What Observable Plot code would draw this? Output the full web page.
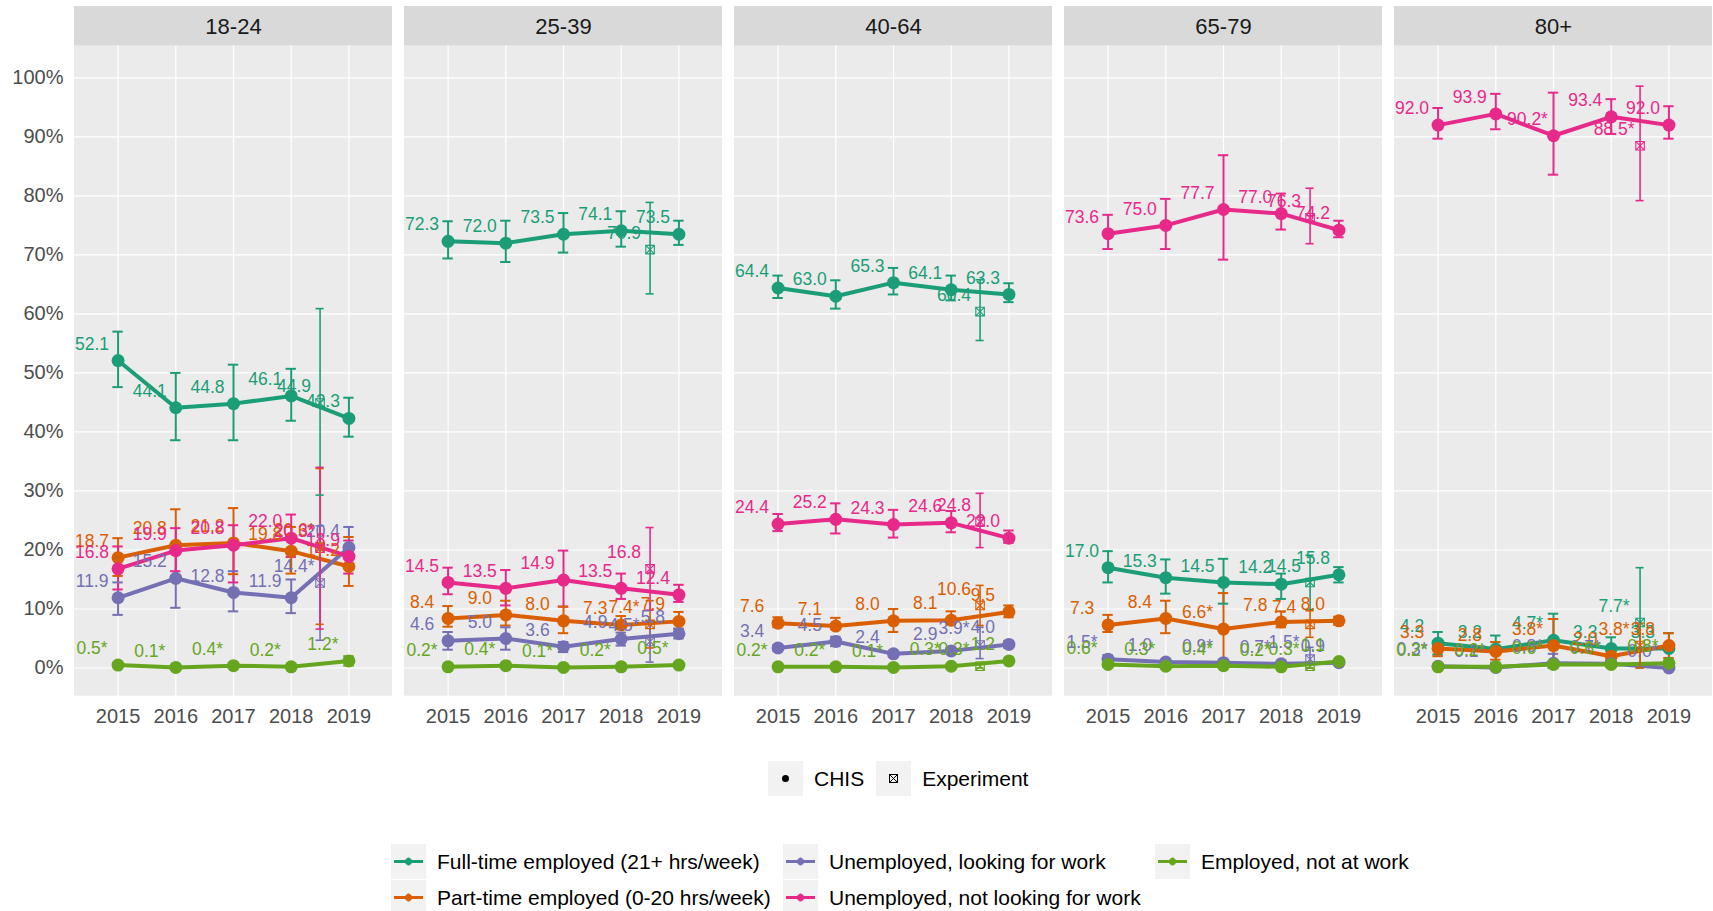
<!DOCTYPE html>
<html><head><meta charset="utf-8">
<script src="https://cdn.jsdelivr.net/npm/d3@7"></script>
<script src="https://cdn.jsdelivr.net/npm/@observablehq/plot@0.6"></script>
<style>
body{margin:0;background:#fff;font-family:"Liberation Sans",Arial,Helvetica,sans-serif;}
#wrap{position:relative;width:1713px;height:911px;overflow:hidden;background:#fff;}
#chart{position:absolute;left:0;top:0;}
.key{width:35px;height:35px;background:#F2F2F2;flex:none;}
.key svg{display:block;}
.lab{font-size:21px;color:#000;white-space:nowrap;line-height:1;}
.item{display:flex;align-items:center;height:35px;}
#leg1{position:absolute;left:768px;top:761px;display:flex;align-items:center;}
#leg2{position:absolute;left:391px;top:844px;display:grid;grid-template-columns:392px 372px auto;grid-template-rows:36px 36px;grid-auto-flow:column;}
</style></head><body>
<div id="wrap"><div id="chart"></div><div id="leg1"></div><div id="leg2"></div></div>
<script>
const years = [2015, 2016, 2017, 2018, 2019];
const expYear = 2018.5;
const ages = ["18-24", "25-39", "40-64", "65-79", "80+"];
const categories = ["Full-time employed (21+ hrs/week)", "Part-time employed (0-20 hrs/week)", "Unemployed, looking for work", "Unemployed, not looking for work", "Employed, not at work"];
const colors = ["#1B9E77", "#D95F02", "#7570B3", "#E7298A", "#66A61E"];
const yTicks = [0, 10, 20, 30, 40, 50, 60, 70, 80, 90, 100];
const shapeLegend = ["CHIS", "Experiment"];

// CHIS estimates (rows = age groups, columns = years), printed labels
const ftLabel = [["52.1","44.1","44.8","46.1","42.3"],["72.3","72.0","73.5","74.1","73.5"],["64.4","63.0","65.3","64.1","63.3"],["17.0","15.3","14.5","14.2","15.8"],["4.2","3.2","4.7*","3.3","3.3"]];
const ftLow = [[47.6,38.6,38.6,41.9,39.2],[69.4,68.8,70.4,71.4,71.7],[62.7,60.9,63.3,62.3,62.0],[14.5,12.6,10.9,11.7,14.5],[2.3,0.9,0.3,1.4,1.0]];
const ftHigh = [[57.0,50.0,51.4,50.7,45.8],[75.7,75.8,77.1,77.4,75.8],[66.5,65.7,67.8,66.5,65.2],[19.8,18.4,18.5,16.0,17.1],[6.1,5.5,9.2,5.2,5.9]];

const ptLabel = [["18.7","20.8","21.2","19.8","17.2"],["8.4","9.0","8.0","7.3","7.9"],["7.6","7.1","8.0","8.1","9.5"],["7.3","8.4","6.6*","7.8","8.0"],["3.3","2.8","3.8*","2.0","3.8"]];
const ptLow = [[15.6,14.7,15.9,16.0,13.9],[7.0,7.2,5.9,6.6,6.6],[6.9,6.6,6.1,7.4,8.6],[6.1,5.9,0.7,6.9,7.3],[2.0,1.4,0.0,1.2,1.7]];
const ptHigh = [[22.0,26.9,27.1,23.9,22.2],[10.5,11.4,10.4,8.8,9.5],[8.6,8.5,10.0,9.6,10.6],[9.0,11.4,12.7,9.6,8.7],[4.6,4.4,8.3,2.8,5.9]];

const ulLabel = [["11.9","15.2","12.8","11.9","20.4"],["4.6","5.0","3.6","4.9","5.8"],["3.4","4.5","2.4","2.9","4.0"],["1.5*","1.0","0.9*","0.7*","0.9"],["0.3*","0.1*","0.8*","0.7*","0.0*"]];
const ulLow = [[9.0,10.2,9.6,9.3,17.0],[3.1,3.1,2.7,3.8,5.0],[2.9,3.7,1.9,2.4,3.4],[0.8,0.6,0.4,0.4,0.6],[0.0,0.0,0.0,0.2,0.0]];
const ulHigh = [[14.5,20.6,16.4,15.0,23.9],[6.1,6.9,4.4,6.0,6.7],[3.9,5.3,2.9,3.4,4.6],[2.2,1.4,1.4,1.0,1.2],[0.6,0.3,2.4,1.2,0.1]];

const unLabel = [["16.8","19.9","20.8","22.0","18.9"],["14.5","13.5","14.9","13.5","12.4"],["24.4","25.2","24.3","24.6","22.0"],["73.6","75.0","77.7","77.0","74.2"],["92.0","93.9","90.2*","93.4","92.0"]];
const unLow = [[13.3,16.4,14.5,18.8,16.0],[12.5,10.6,10.4,11.7,11.2],[23.2,22.8,22.1,23.0,21.2],[71.0,71.0,69.2,74.3,73.0],[89.7,91.3,83.6,90.5,89.7]];
const unHigh = [[20.6,23.7,24.2,26.0,21.6],[17.0,16.6,19.9,16.0,14.1],[26.1,27.9,26.8,26.6,23.3],[76.8,79.5,86.9,80.4,75.8],[94.9,97.3,97.5,96.4,95.2]];

const enLabel = [["0.5*","0.1*","0.4*","0.2*","1.2*"],["0.2*","0.4*","0.1*","0.2*","0.5*"],["0.2*","0.2*","0.1*","0.3*","1.2"],["0.6*","0.3*","0.4*","0.2*","1.1"],["0.2*","0.2*","0.6*","0.6*","0.8*"]];
const enLow = [[0.1,0.0,0.0,0.0,0.4],[0.0,0.1,0.0,0.0,0.1],[0.1,0.1,0.0,0.2,0.9],[0.2,0.1,0.1,0.1,0.8],[0.0,0.0,0.1,0.2,0.3]];
const enHigh = [[0.9,0.3,0.8,0.4,2.0],[0.4,0.7,0.2,0.4,0.9],[0.3,0.3,0.2,0.4,1.5],[1.0,0.5,0.7,0.3,1.4],[0.4,0.4,1.1,1.0,1.3]];

// Experiment estimates (one per age group, null = not shown)
const ftExp = ["44.9","70.9","60.4","14.5","7.7*"];
const ftExpLow = [29.3,63.4,55.5,9.9,0.0];
const ftExpHigh = [60.9,78.9,65.8,19.1,17.0];
const ptExp = ["20.6*","7.4*","10.6","7.4","3.8*"];
const ptExpLow = [7.4,3.4,7.2,5.2,0.0];
const ptExpHigh = [33.8,11.4,14.0,9.7,7.6];
const ulExp = ["14.4*","4.5*","3.9*","1.5*",null];
const ulExpLow = [4.7,1.0,1.6,0.0,null];
const ulExpHigh = [24.1,8.0,6.9,3.5,null];
const unExp = ["20.3*","16.8","24.8","76.3","88.5*"];
const unExpLow = [6.6,9.8,20.4,71.9,79.2];
const unExpHigh = [34.0,23.8,29.6,81.3,98.6];
const enExp = [null,null,"0.3*","0.3*",null];
const enExpLow = [null,null,0.0,0.0,null];
const enExpHigh = [null,null,0.8,0.8,null];

const series = [
  [ftLabel, ftLow, ftHigh, ftExp, ftExpLow, ftExpHigh],
  [ptLabel, ptLow, ptHigh, ptExp, ptExpLow, ptExpHigh],
  [ulLabel, ulLow, ulHigh, ulExp, ulExpLow, ulExpHigh],
  [unLabel, unLow, unHigh, unExp, unExpLow, unExpHigh],
  [enLabel, enLow, enHigh, enExp, enExpLow, enExpHigh]
];

const rows = [], expRows = [];
categories.forEach((cat, c) => {
  const [lab, lo, hi, eLab, eLo, eHi] = series[c];
  ages.forEach((age, a) => {
    years.forEach((year, i) => {
      rows.push({cat, age, year, label: lab[a][i], value: parseFloat(lab[a][i]), lo: lo[a][i], hi: hi[a][i]});
    });
    if (eLab[a] != null) expRows.push({cat, age, year: expYear, label: eLab[a], value: parseFloat(eLab[a]), lo: eLo[a], hi: eHi[a]});
  });
});

const xDom = [2014.245, 2019.755];
const yDom = [-4.78, 112.1];
const panelTop = 105.39;
const capC = 0.09, capE = 0.07;

const chart = Plot.plot({
  width: 1713, height: 735,
  marginLeft: 73, marginRight: 0, marginTop: 6, marginBottom: 39.3,
  style: {fontFamily: '"Liberation Sans", Arial, Helvetica, sans-serif', fontSize: "20px", color: "#4D4D4D", background: "transparent", overflow: "visible"},
  fx: {domain: ages, paddingInner: 0.0378, paddingOuter: 0, axis: null, label: null},
  x: {domain: xDom, ticks: years, tickFormat: "d", tickSize: 0, tickPadding: 13, label: null},
  y: {domain: yDom, ticks: yTicks, tickFormat: d => d + "%", tickSize: 0, tickPadding: 11, label: null},
  color: {domain: categories, range: colors},
  marks: [
    Plot.rect([0], {x1: () => xDom[0], x2: () => xDom[1], y1: () => yDom[0], y2: () => panelTop, fill: "#EBEBEB"}),
    Plot.rect([0], {x1: () => xDom[0], x2: () => xDom[1], y1: () => panelTop, y2: () => yDom[1], fill: "#D9D9D9"}),
    Plot.text(ages, {fx: d => d, x: () => (xDom[0] + xDom[1]) / 2, y: () => 108.6, text: d => d, fontSize: 22, fill: "#1A1A1A"}),
    Plot.ruleY(yTicks, {y: d => d, stroke: "white", strokeWidth: 1.2}),
    Plot.ruleX(years, {x: d => d, y1: () => yDom[0], y2: () => panelTop, stroke: "white", strokeWidth: 1.2}),
    // CHIS error bars
    Plot.ruleX(rows, {fx: "age", x: "year", y1: "lo", y2: "hi", stroke: "cat", strokeWidth: 2}),
    Plot.ruleY(rows, {fx: "age", x1: d => d.year - capC, x2: d => d.year + capC, y: "lo", stroke: "cat", strokeWidth: 2}),
    Plot.ruleY(rows, {fx: "age", x1: d => d.year - capC, x2: d => d.year + capC, y: "hi", stroke: "cat", strokeWidth: 2}),
    // CHIS lines and points
    Plot.line(rows, {fx: "age", x: "year", y: "value", z: "cat", stroke: "cat", strokeWidth: 4}),
    Plot.dot(rows, {fx: "age", x: "year", y: "value", fill: "cat", r: 6.5}),
    // Experiment error bars and markers
    Plot.ruleX(expRows, {fx: "age", x: "year", y1: "lo", y2: "hi", stroke: "cat", strokeWidth: 1.6}),
    Plot.ruleY(expRows, {fx: "age", x1: d => d.year - capE, x2: d => d.year + capE, y: "lo", stroke: "cat", strokeWidth: 1.6}),
    Plot.ruleY(expRows, {fx: "age", x1: d => d.year - capE, x2: d => d.year + capE, y: "hi", stroke: "cat", strokeWidth: 1.6}),
    Plot.dot(expRows, {fx: "age", x: "year", y: "value", stroke: "cat", symbol: "square", r: 4.8, strokeWidth: 1.1, fill: "none"}),
    Plot.dot(expRows, {fx: "age", x: "year", y: "value", stroke: "cat", symbol: "times", r: 4, strokeWidth: 1.1}),
    // value labels
    Plot.text(rows.concat(expRows), {fx: "age", x: "year", y: "value", text: "label", fill: "cat", dx: -26, dy: -16.5, fontSize: 17.5})
  ]
});
document.getElementById("chart").appendChild(chart);

// Legends
function shapeKey(name) {
  if (name === "CHIS") return `<svg width="35" height="35"><circle cx="17.5" cy="17.5" r="3.5" fill="#000"/></svg>`;
  return `<svg width="35" height="35"><rect x="13.5" y="13.5" width="8" height="8" fill="none" stroke="#000" stroke-width="1"/><path d="M13.5,13.5L21.5,21.5M21.5,13.5L13.5,21.5" stroke="#000" stroke-width="1"/></svg>`;
}
const leg1 = document.getElementById("leg1");
shapeLegend.forEach((name, i) => {
  const item = document.createElement("div");
  item.className = "item";
  item.style.marginRight = i === 0 ? "12px" : "0";
  item.innerHTML = `<div class="key">${shapeKey(name)}</div><div class="lab" style="margin-left:11px">${name}</div>`;
  leg1.appendChild(item);
});
const leg2 = document.getElementById("leg2");
categories.forEach((cat, i) => {
  const item = document.createElement("div");
  item.className = "item";
  item.innerHTML = `<div class="key"><svg width="35" height="35"><line x1="3" y1="17.5" x2="32" y2="17.5" stroke="${colors[i]}" stroke-width="3"/><line x1="17.5" y1="13.5" x2="17.5" y2="21.5" stroke="${colors[i]}" stroke-width="2"/><circle cx="17.5" cy="17.5" r="3.5" fill="${colors[i]}"/></svg></div><div class="lab" style="margin-left:11px">${cat}</div>`;
  leg2.appendChild(item);
});
</script></body></html>
